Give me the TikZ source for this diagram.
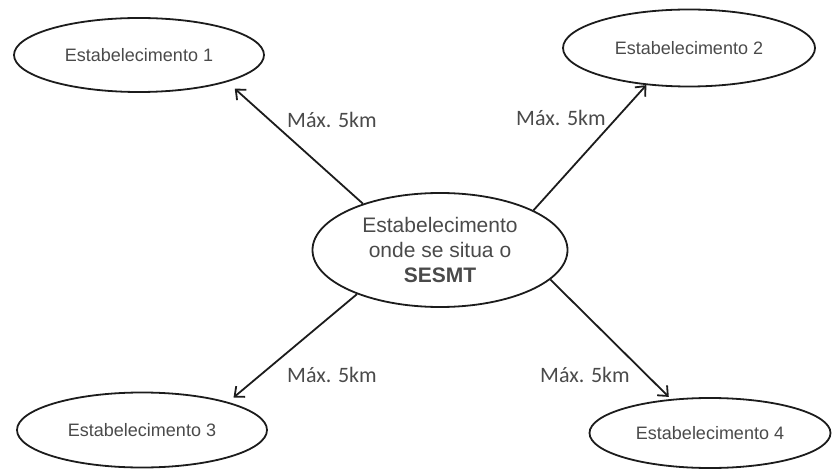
\documentclass[tikz,border=0pt]{standalone}
\usepackage{fontspec}
\setmainfont{Liberation Sans}
\newfontfamily\calibfont{Carlito}
\usetikzlibrary{shapes.geometric,arrows.meta}
\definecolor{textogris}{HTML}{4A4A4A}
\definecolor{linha}{HTML}{1C1C1C}
\tikzset{ % styles for the map
  estab/.style={ellipse,draw=linha,line width=1.8pt,inner sep=0pt,
    text=textogris,font=\fontsize{18}{21}\selectfont},
  sede/.style={estab,align=center,font=\fontsize{21}{25}\selectfont},
  rotulo/.style={text=textogris,font=\calibfont\fontsize{22}{26}\selectfont},
  distancia/.style={draw=linha,line width=1.8pt,
    -{Straight Barb[length=8pt,width=14pt,line width=1.8pt]}}
}

\begin{document}
\begin{tikzpicture}[x=1pt,y=-1pt]
\useasboundingbox (0,0) rectangle (832,470);

\node [sede,minimum width=255pt,minimum height=114pt] (sesmt) at (440,250)
      {Estabelecimento\\onde se situa o\\\textbf{SESMT}};
\node [estab,minimum width=250pt,minimum height=74pt] (e1) at (139,55) {Estabelecimento 1};
\node [estab,minimum width=252pt,minimum height=77pt] (e2) at (689,48) {Estabelecimento 2};
\node [estab,minimum width=250pt,minimum height=75pt] (e3) at (142,430) {Estabelecimento 3};
\node [estab,minimum width=241pt,minimum height=70pt] (e4) at (710,433) {Estabelecimento 4};

\draw [distancia,shorten >=10pt] (sesmt.149) -- (e1.343);
\draw [distancia] (sesmt.23) -- (e2.221);
\draw [distancia,shorten >=7pt] (sesmt.208) -- (e3.18);
\draw [distancia,shorten >=3pt] (sesmt.345) -- (e4.139);

% distance labels
\node [rotulo] (d1) at (332,120) {Máx. 5km};
\node [rotulo] (d2) at (561,118) {Máx. 5km};
\node [rotulo] (d3) at (332,375) {Máx. 5km};
\node [rotulo] (d4) at (585,375) {Máx. 5km};

\end{tikzpicture}
\end{document}
